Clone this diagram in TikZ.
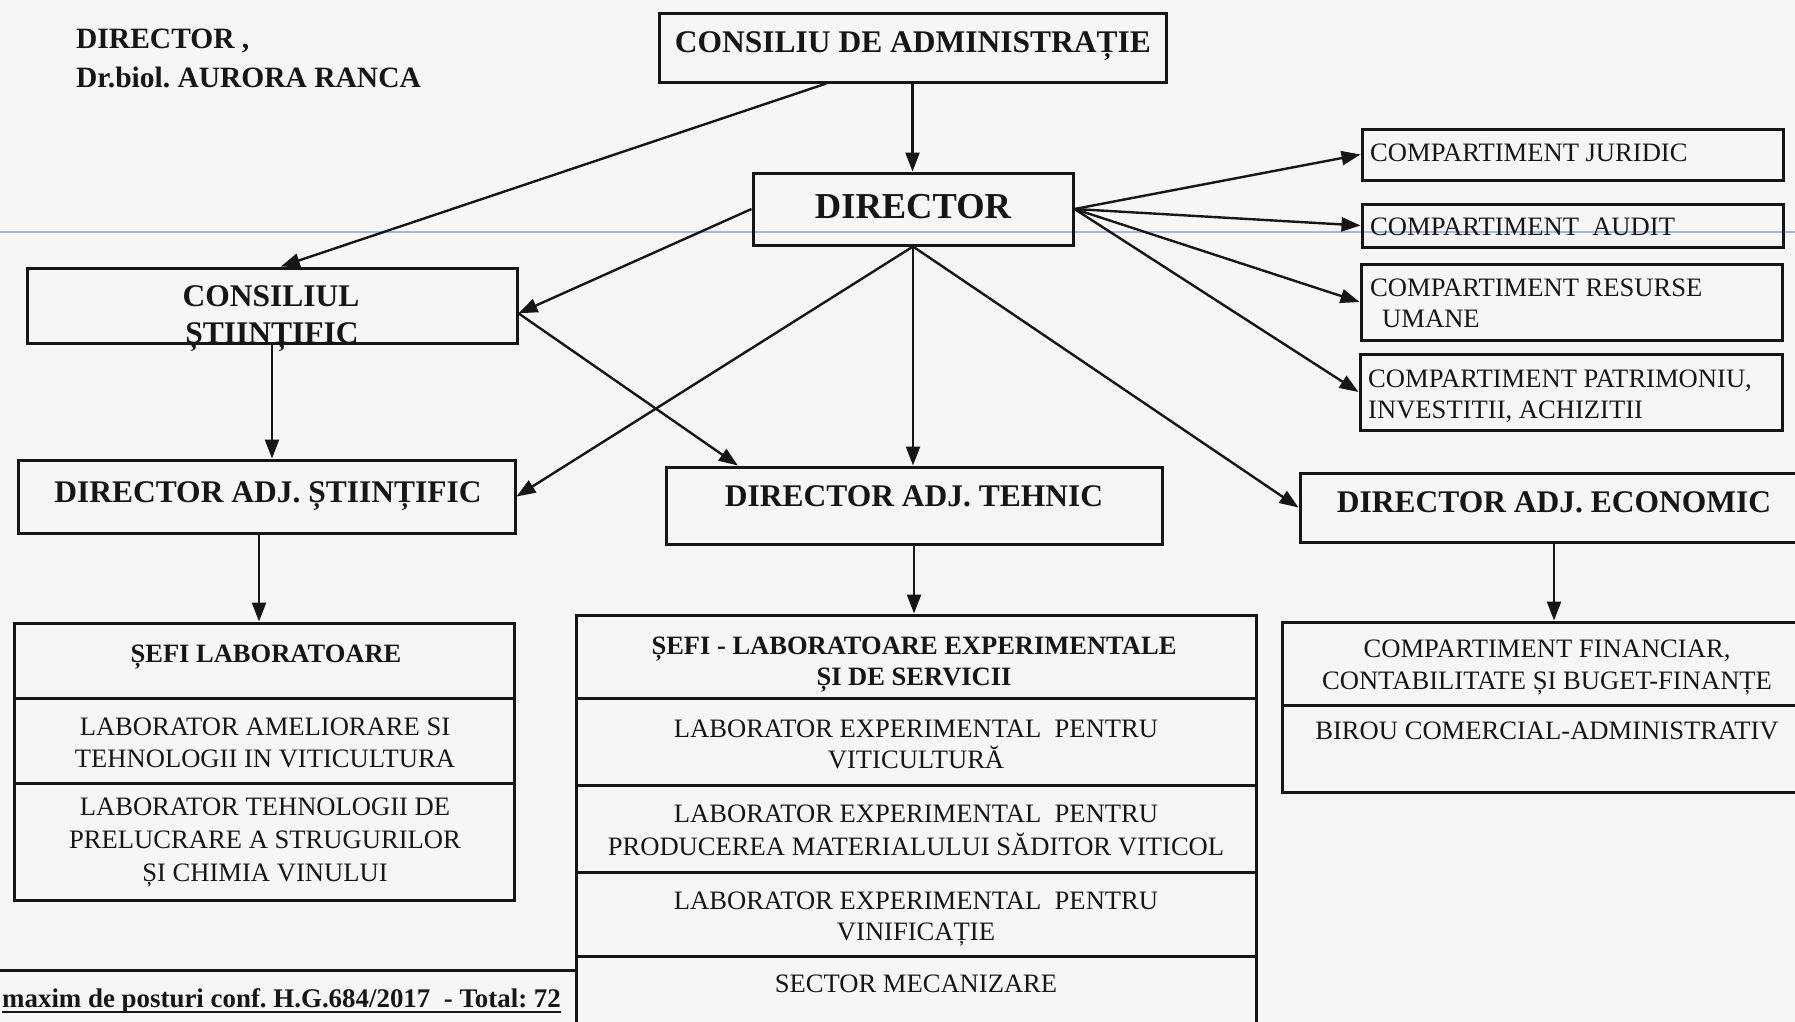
\documentclass[tikz,border=0pt]{standalone}
\usepackage{fontspec}
\setmainfont{Liberation Serif}
\frenchspacing
\usetikzlibrary{arrows.meta,calc}
\definecolor{ink}{RGB}{22,22,22}
\definecolor{paper}{RGB}{246,246,247}
\definecolor{scanblue}{RGB}{165,182,228}
\tikzset{
  boxn/.style={draw=ink,line width=3pt,inner sep=0pt,rectangle},
  arr/.style={draw=ink,line width=2.4pt,-{Triangle[length=19pt,width=14pt]}},
  hb/.style={font={\bfseries\fontsize{31.5}{36}\selectfont},anchor=base,inner sep=0pt,text=ink},
  hbig/.style={font={\bfseries\fontsize{36.5}{42}\selectfont},anchor=base,inner sep=0pt,text=ink},
  tl/.style={font={\bfseries\fontsize{29.5}{34}\selectfont},anchor=base west,inner sep=0pt,text=ink},
  tb/.style={font={\bfseries\fontsize{26.5}{31}\selectfont},anchor=base,inner sep=0pt,text=ink},
  tr/.style={font={\fontsize{26.6}{31}\selectfont},anchor=base,inner sep=0pt,text=ink},
  trl/.style={font={\fontsize{26.6}{31}\selectfont},anchor=base west,inner sep=0pt,text=ink},
  fb/.style={font={\bfseries\fontsize{26.9}{31}\selectfont},anchor=base west,inner sep=0pt,text=ink},
}
\begin{document}
\begin{tikzpicture}[x=1pt,y=-1pt]
\useasboundingbox (0,0) rectangle (1795,1021);
\clip (0,0) rectangle (1795,1021);
\fill[paper] (-10,-10) rectangle (1805,1031);
\draw[scanblue,line width=1.5pt] (0,232) -- (1795,232);

% top-left signature
\node[tl] (sig1) at (76,48) {DIRECTOR ,};
\node[tl] (sig2) at (76,87) {Dr.biol. AURORA RANCA};

% boxes
\node[boxn,minimum width=507pt,minimum height=69pt] (cda) at (912.5,47.5) {};
\node[hb] (cdat) at (913,52) {CONSILIU DE ADMINISTRAȚIE};

\node[boxn,minimum width=320pt,minimum height=72pt] (dir) at (913,209) {};
\node[hbig] (dirt) at (913,218) {DIRECTOR};

\node[boxn,minimum width=421pt,minimum height=51pt] (jur) at (1572.5,154.5) {};
\node[trl] (jurt) at (1370,161) {COMPARTIMENT JURIDIC};
\node[boxn,minimum width=421pt,minimum height=43pt] (aud) at (1572.5,225.5) {};
\node[trl] (audt) at (1370,235) {COMPARTIMENT\ \ AUDIT};
\node[boxn,minimum width=421pt,minimum height=76pt] (res) at (1571.5,302) {};
\node[trl] (rest1) at (1370,296) {COMPARTIMENT RESURSE};
\node[trl] (rest2) at (1382,327) {UMANE};
\node[boxn,minimum width=422pt,minimum height=76pt] (pat) at (1571,392) {};
\node[trl] (patt1) at (1368,387) {COMPARTIMENT PATRIMONIU,};
\node[trl] (patt2) at (1368,418) {INVESTITII, ACHIZITII};

\node[boxn,minimum width=490pt,minimum height=75pt] (cs) at (272,305.5) {};
\node[hb] (cst1) at (271,306) {CONSILIUL};
\node[hb] (cst2) at (272,343) {ȘTIINȚIFIC};

\node[boxn,minimum width=497pt,minimum height=73pt] (ast) at (266.5,496.5) {};
\node[hb] (astt) at (268,502) {DIRECTOR ADJ. ȘTIINȚIFIC};
\node[boxn,minimum width=496pt,minimum height=77pt] (ate) at (914,505.5) {};
\node[hb] (atet) at (914,506) {DIRECTOR ADJ. TEHNIC};
\node[boxn,minimum width=508pt,minimum height=69pt] (aec) at (1554,507.5) {};
\node[hb] (aect) at (1554,512) {DIRECTOR ADJ. ECONOMIC};

% left table
\node[boxn,minimum width=500pt,minimum height=75pt] (lt1) at (264,660.5) {};
\node[tb] (lt1a) at (266,662) {ȘEFI LABORATOARE};
\node[boxn,minimum width=500pt,minimum height=85pt] (lt2) at (264,740.5) {};
\node[tr] (lt2a) at (265,735) {LABORATOR AMELIORARE SI};
\node[tr] (lt2b) at (265,767) {TEHNOLOGII IN VITICULTURA};
\node[boxn,minimum width=500pt,minimum height=117pt] (lt3) at (264,841.5) {};
\node[tr] (lt3a) at (265,815) {LABORATOR TEHNOLOGII DE};
\node[tr] (lt3b) at (265,848) {PRELUCRARE A STRUGURILOR};
\node[tr] (lt3c) at (265,881) {ȘI CHIMIA VINULUI};

% middle table
\node[boxn,minimum width=680pt,minimum height=83pt] (mt1) at (916,656.5) {};
\node[tb] (mt1a) at (914,654) {ȘEFI - LABORATOARE EXPERIMENTALE};
\node[tb] (mt1b) at (914,685) {ȘI DE SERVICII};
\node[boxn,minimum width=680pt,minimum height=87pt] (mt2) at (916,741.5) {};
\node[tr] (mt2a) at (916,737) {LABORATOR EXPERIMENTAL\ \ PENTRU};
\node[tr] (mt2b) at (916,768) {VITICULTURĂ};
\node[boxn,minimum width=680pt,minimum height=87pt] (mt3) at (916,828.5) {};
\node[tr] (mt3a) at (916,822) {LABORATOR EXPERIMENTAL\ \ PENTRU};
\node[tr] (mt3b) at (916,855) {PRODUCEREA MATERIALULUI SĂDITOR VITICOL};
\node[boxn,minimum width=680pt,minimum height=84pt] (mt4) at (916,914) {};
\node[tr] (mt4a) at (916,909) {LABORATOR EXPERIMENTAL\ \ PENTRU};
\node[tr] (mt4b) at (916,940) {VINIFICAȚIE};
\node[boxn,minimum width=680pt,minimum height=84pt] (mt5) at (916,998) {};
\node[tr] (mt5a) at (916,992) {SECTOR MECANIZARE};

% right table
\node[boxn,minimum width=533pt,minimum height=83pt] (rt1) at (1548.5,663.5) {};
\node[tr] (rt1a) at (1547,657) {COMPARTIMENT FINANCIAR,};
\node[tr] (rt1b) at (1547,689) {CONTABILITATE ȘI BUGET-FINANȚE};
\node[boxn,minimum width=533pt,minimum height=87pt] (rt2) at (1548.5,748.5) {};
\node[tr] (rt2a) at (1547,739) {BIROU COMERCIAL-ADMINISTRATIV};

% footer
\coordinate (fl) at (-5,970);
\draw[ink,line width=3pt] (fl) -- (fl -| mt5.west);
\node[fb] (ft) at (2,1007) {maxim de posturi conf. H.G.684/2017\ \ - Total: 72};
\draw[ink,line width=2.2pt] ([yshift=-5pt]ft.base west) -- ([yshift=-5pt]ft.base east);

% connectors
\coordinate (csR) at ($(cs.north east)!0.6!(cs.south east)$);
\draw[arr] ($(cda.south west)!0.331!(cda.south east)$) -- ($(cs.north west)!0.518!(cs.north east)$);
\draw[arr] (cda.south) -- (cda.south |- dir.north);
\draw[arr] (dir.west) -- (csR);
\draw[arr] (dir.east) -- (jur.west);
\draw[arr] (dir.east) -- (aud.west);
\draw[arr] (dir.east) -- (res.west);
\draw[arr] (dir.east) -- (pat.west);
\draw[arr] (dir.south) -- (ast.east);
\draw[arr] (dir.south) -- (dir.south |- ate.north);
\draw[arr] (dir.south) -- (aec.west);
\draw[arr] (csR) -- ($(ate.north west)!0.147!(ate.north east)$);
\draw[arr] (cs.south) -- (cs.south |- ast.north);
\coordinate (astB) at ($(ast.south west)!0.485!(ast.south east)$);
\draw[arr] (astB) -- (astB |- lt1.north);
\draw[arr] (ate.south) -- (ate.south |- mt1.north);
\draw[arr] (aec.south) -- (aec.south |- rt1.north);
\end{tikzpicture}
\end{document}
